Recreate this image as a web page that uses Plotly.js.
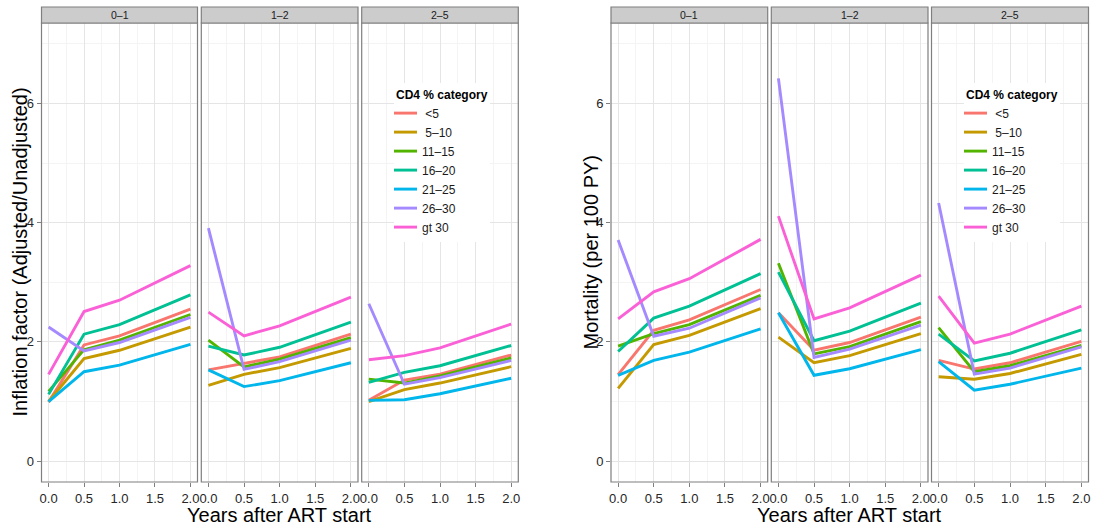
<!DOCTYPE html>
<html>
<head>
<meta charset="utf-8">
<script src="https://cdn.plot.ly/plotly-3.0.1.min.js"></script>
<style>html,body{margin:0;padding:0;background:#fff;}#chart{width:1094px;height:529px;}</style>
</head>
<body>
<div id="chart"></div>
<script>
// ---------------- data ----------------
const years = [0, 0.5, 1, 2];
const categories = ["\u00a0<5", "\u00a05\u201310", "11\u201315", "16\u201320", "21\u201325", "26\u201330", "gt 30"];
const colors = ["#F8766D", "#C49A00", "#53B400", "#00C094", "#00B6EB", "#A58AFF", "#FB61D7"];
const facetLabels = ["0\u20131", "1\u20132", "2\u20135"];

// Inflation factor (Adjusted/Unadjusted), one row per CD4 % category
const inflation_0_1 = [
  [0.99, 1.95, 2.10, 2.55],
  [1.00, 1.72, 1.86, 2.25],
  [1.17, 1.87, 2.03, 2.46],
  [1.12, 2.13, 2.29, 2.79],
  [1.00, 1.50, 1.61, 1.96],
  [2.25, 1.85, 1.99, 2.41],
  [1.455, 2.51, 2.70, 3.28]
];
const inflation_1_2 = [
  [1.53, 1.64, 1.75, 2.13],
  [1.27, 1.455, 1.57, 1.89],
  [2.03, 1.58, 1.71, 2.07],
  [1.93, 1.78, 1.91, 2.33],
  [1.53, 1.25, 1.35, 1.65],
  [3.91, 1.54, 1.67, 2.03],
  [2.50, 2.10, 2.27, 2.75]
];
const inflation_2_5 = [
  [1.02, 1.36, 1.46, 1.78],
  [1.00, 1.20, 1.31, 1.585],
  [1.375, 1.31, 1.43, 1.73],
  [1.32, 1.49, 1.60, 1.94],
  [1.02, 1.03, 1.13, 1.39],
  [2.64, 1.29, 1.40, 1.69],
  [1.70, 1.77, 1.90, 2.30]
];
// Mortality (per 100 PY)
const mortality_0_1 = [
  [1.45, 2.195, 2.37, 2.88],
  [1.22, 1.955, 2.11, 2.56],
  [1.93, 2.14, 2.29, 2.78],
  [1.84, 2.40, 2.60, 3.145],
  [1.44, 1.69, 1.83, 2.22],
  [3.71, 2.095, 2.23, 2.74],
  [2.385, 2.84, 3.06, 3.72]
];
const mortality_1_2 = [
  [2.49, 1.86, 1.99, 2.415],
  [2.08, 1.65, 1.77, 2.14],
  [3.32, 1.80, 1.92, 2.34],
  [3.17, 2.02, 2.18, 2.65],
  [2.49, 1.44, 1.55, 1.87],
  [6.42, 1.74, 1.88, 2.28],
  [4.11, 2.385, 2.57, 3.12]
];
const mortality_2_5 = [
  [1.69, 1.545, 1.65, 2.01],
  [1.415, 1.375, 1.47, 1.79],
  [2.24, 1.50, 1.60, 1.94],
  [2.13, 1.68, 1.81, 2.20],
  [1.67, 1.19, 1.29, 1.56],
  [4.33, 1.46, 1.56, 1.915],
  [2.77, 1.98, 2.13, 2.60]
];
const yTicks = [0, 2, 4, 6];
const xTicks = [0, 0.5, 1, 1.5, 2];

// ---------------- layout geometry ----------------
const W = 1094, H = 529;
const FONT = "Liberation Sans, Arial, Helvetica, sans-serif";
const panelPx = [[41.5, 197.5], [201.3, 358], [361.7, 518.3], [611, 767.7], [771.3, 928], [931.5, 1088.5]];
const facetData = [inflation_0_1, inflation_1_2, inflation_2_5, mortality_0_1, mortality_1_2, mortality_2_5];

const traces = [];
facetData.forEach((rows, f) => {
  const xa = f === 0 ? "x" : "x" + (f + 1);
  const ya = f < 3 ? "y" : "y2";
  rows.forEach((vals, c) => {
    traces.push({
      type: "scatter", mode: "lines",
      x: years, y: vals,
      xaxis: xa, yaxis: ya,
      name: categories[c],
      legend: f < 3 ? "legend" : "legend2",
      legendgroup: (f < 3 ? "L" : "R") + c,
      showlegend: f === 0 || f === 3,
      line: {color: colors[c], width: 2.9},
      hoverinfo: "skip"
    });
  });
});

const layout = {
  width: W, height: H,
  margin: {l: 0, r: 0, t: 23, b: 47},
  paper_bgcolor: "#ffffff", plot_bgcolor: "#ffffff",
  font: {family: FONT, color: "#1a1a1a"},
  showlegend: true,
  shapes: [], annotations: []
};

const gridMajor = "#E5E5E5", gridMinor = "#F4F4F4";
for (let f = 0; f < 6; f++) {
  const key = f === 0 ? "xaxis" : "xaxis" + (f + 1);
  layout[key] = {
    domain: [panelPx[f][0] / W, panelPx[f][1] / W],
    anchor: f < 3 ? "y" : "y2",
    range: [-0.1, 2.1],
    tickmode: "array", tickvals: xTicks, ticktext: xTicks.map(v => v.toFixed(1)),
    ticks: "outside", ticklen: 4, tickwidth: 1, tickcolor: "#7F7F7F",
    tickfont: {size: 13, color: "#262626", family: FONT},
    showgrid: true, gridcolor: gridMajor, gridwidth: 1,
    minor: {tickvals: [0.25, 0.75, 1.25, 1.75], showgrid: true, gridcolor: gridMinor, gridwidth: 1, ticks: ""},
    zeroline: false, showline: false, fixedrange: true
  };
}
["yaxis", "yaxis2"].forEach((key, i) => {
  layout[key] = {
    domain: [0, 1],
    anchor: i === 0 ? "x" : "x4",
    range: [-0.35, 7.35],
    tickmode: "array", tickvals: yTicks, ticktext: yTicks.map(String),
    ticks: "outside", ticklen: 4, tickwidth: 1, tickcolor: "#7F7F7F",
    tickfont: {size: 13, color: "#262626", family: FONT},
    showgrid: true, gridcolor: gridMajor, gridwidth: 1,
    minor: {tickvals: [1, 3, 5, 7], showgrid: true, gridcolor: gridMinor, gridwidth: 1, ticks: ""},
    zeroline: false, showline: false, fixedrange: true
  };
});

// panel borders and strips
const plotH = H - 23 - 47;
const stripH = 16 / plotH;
for (let f = 0; f < 6; f++) {
  const xr = (f === 0 ? "x" : "x" + (f + 1)) + " domain";
  const yr = (f < 3 ? "y" : "y2") + " domain";
  layout.shapes.push({type: "rect", xref: xr, yref: yr, x0: 0, x1: 1, y0: 0, y1: 1,
    line: {color: "#7F7F7F", width: 1.2}, fillcolor: "rgba(0,0,0,0)", layer: "above"});
  layout.shapes.push({type: "rect", xref: xr, yref: "paper", x0: 0, x1: 1, y0: 1, y1: 1 + stripH,
    line: {color: "#7F7F7F", width: 1.2}, fillcolor: "#CCCCCC", layer: "above"});
  layout.annotations.push({xref: xr, yref: "paper", x: 0.5, y: 1 + stripH / 2, text: facetLabels[f % 3],
    showarrow: false, xanchor: "center", yanchor: "middle", font: {size: 10.5, color: "#1a1a1a", family: FONT}});
}

// axis titles
const titleY = (H - 47 - 515) / plotH;
const titleFont = {size: 20, color: "#000", family: FONT};
layout.annotations.push({xref: "paper", yref: "paper", x: ((panelPx[1][0] + panelPx[1][1]) / 2) / W, y: titleY,
  text: "Years after ART start", showarrow: false, xanchor: "center", yanchor: "middle", font: titleFont});
layout.annotations.push({xref: "paper", yref: "paper", x: ((panelPx[4][0] + panelPx[4][1]) / 2) / W, y: titleY,
  text: "Years after ART start", showarrow: false, xanchor: "center", yanchor: "middle", font: titleFont});
layout.annotations.push({xref: "paper", yref: "paper", x: 19 / W, y: 0.5, textangle: -90,
  text: "Inflation factor (Adjusted/Unadjusted)", showarrow: false, xanchor: "center", yanchor: "middle", font: titleFont});
layout.annotations.push({xref: "paper", yref: "paper", x: 590 / W, y: 0.5, textangle: -90,
  text: "Mortality (per 100 PY)", showarrow: false, xanchor: "center", yanchor: "middle", font: titleFont});

// legends
const legendCommon = {
  bgcolor: "#ffffff", borderwidth: 0, xanchor: "left", yanchor: "top",
  font: {size: 12, color: "#1a1a1a", family: FONT},
  title: {text: "<b>CD4 % category</b>", font: {size: 12, color: "#000", family: FONT}},
  itemwidth: 30, tracegroupgap: 0, indentation: -12, itemclick: false, itemdoubleclick: false
};
layout.legend = Object.assign({}, legendCommon, {x: 394 / W, y: (H - 47 - 83) / plotH});
layout.legend2 = Object.assign({}, legendCommon, {x: 964 / W, y: (H - 47 - 83) / plotH});

Plotly.newPlot("chart", traces, layout, {staticPlot: true, displayModeBar: false});
</script>
</body>
</html>
